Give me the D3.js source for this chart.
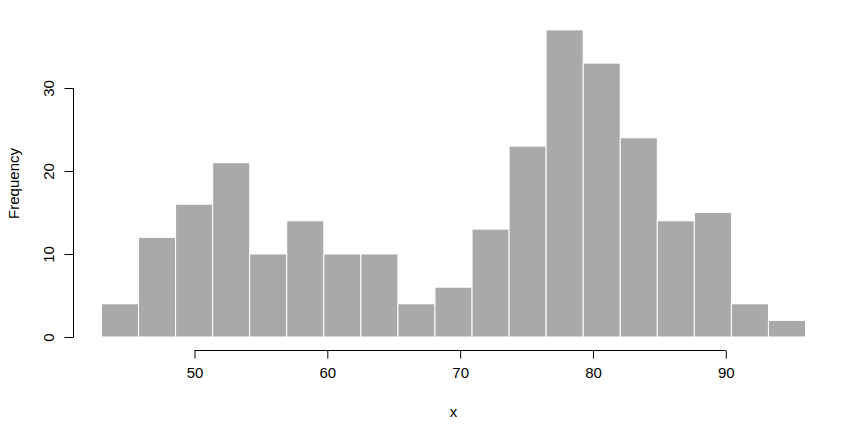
<!DOCTYPE html>
<html><head><meta charset="utf-8">
<script src="https://cdn.jsdelivr.net/npm/d3@7"></script>
<style>body{margin:0;background:#fff;} text{font-family:"Liberation Sans",Arial,sans-serif;}</style>
</head><body>
<svg id="c" width="847" height="437"></svg>
<script>
const breakMin = 43, breakMax = 96;
const counts = [4,12,16,21,10,14,10,10,4,6,13,23,37,33,24,14,15,4,2];
const xTicks = [50,60,70,80,90];
const yTicks = [0,10,20,30];

const FS = 15;
const nb = counts.length;
const step = (breakMax - breakMin) / nb;
const bins = counts.map((c,i)=>({x0: breakMin + i*step, x1: breakMin + (i+1)*step, c}));

const svg = d3.select("#c");
const x = d3.scaleLinear().domain([breakMin, breakMax]).range([101.5, 805.5]);
const y = d3.scaleLinear().domain([0, 30]).range([337, 88]);

svg.append("g").selectAll("rect").data(bins).join("rect")
  .attr("x", d=>x(d.x0)).attr("width", d=>x(d.x1)-x(d.x0))
  .attr("y", d=>y(d.c)).attr("height", d=>y(0)-y(d.c))
  .attr("fill", "#a9a9a9").attr("stroke", "#fff").attr("stroke-width", 1);

const xa = svg.append("g").attr("transform","translate(0,350.5)")
  .call(d3.axisBottom(x).tickValues(xTicks).tickSize(8).tickPadding(12).tickSizeOuter(0));
xa.select(".domain").attr("d", `M${x(50)},0H${x(90)}`);
const ya = svg.append("g").attr("transform","translate(73.5,0)")
  .call(d3.axisLeft(y).tickValues(yTicks).tickSize(9).tickSizeOuter(0));
ya.select(".domain").attr("d", `M0,${y(0)}V${y(30)}`);
ya.selectAll(".tick text").attr("transform","rotate(-90)")
  .attr("x", 0).attr("dy", 0).attr("y", -20).attr("text-anchor","middle");
[xa, ya].forEach(a=>{
  a.attr("font-size", FS);
  a.selectAll("text").attr("font-size", FS).attr("fill","#000").attr("font-family","Liberation Sans, Arial, sans-serif");
  a.selectAll("line,path").attr("stroke","#000");
});
xa.selectAll(".tick text").attr("dy","0.71em").attr("y", 17);

svg.append("text").attr("x", x(69.5)).attr("y", 417).attr("text-anchor","middle")
  .attr("font-size",FS).text("x");
svg.append("text").attr("transform",`translate(19,${y(18.5)}) rotate(-90)`).attr("text-anchor","middle")
  .attr("font-size",FS).text("Frequency");
</script>
</body></html>
